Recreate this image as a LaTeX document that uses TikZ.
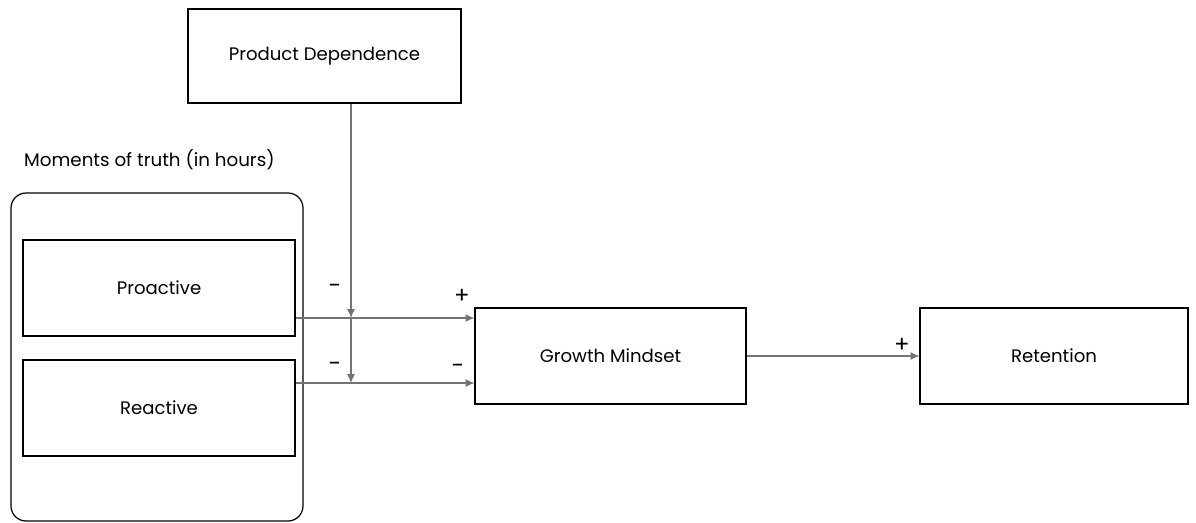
\documentclass[tikz,border=0pt]{standalone}
\usepackage{fontspec}
\setmainfont{Poppins}
\usepackage{tikz}
\usetikzlibrary{arrows.meta}
\tikzstyle{box} = [draw, line width=0.7pt, minimum width=5.44cm, minimum height=1.92cm, inner sep=0pt, font=\fontsize{10.3}{12}\selectfont]
\tikzstyle{arr} = [draw, gray!90!black, line width=0.6pt, -{Latex[length=5pt,width=4.5pt]}]
\tikzstyle{sign} = [font=\fontsize{13}{15}\selectfont, inner sep=0pt]

\begin{document}
\begin{tikzpicture}[x=0.02cm,y=-0.02cm]
			\useasboundingbox (0,0) rectangle (1196,522);
			\draw[line width=0.7pt, rounded corners=0.3cm] (11,193) rectangle (303,521);
			\node[anchor=west, font=\fontsize{10.4}{12}\selectfont] (mot) at (18,160) {Moments of truth (in hours)};
			\node[box, minimum width=5.46cm, minimum height=1.88cm] (pd) at (324.5,56) {Product Dependence};
			\node[box] (pro) at (159,288) {Proactive};
			\node[box] (rea) at (159,408) {Reactive};
			\node[box, minimum width=5.42cm] (gm) at (610.5,356) {Growth Mindset};
			\node[box, minimum width=5.36cm] (ret) at (1054,356) {Retention};
			\coordinate (a1) at ([yshift=-0.6cm]pro.east);
			\coordinate (a2) at ([yshift=0.5cm]rea.east);
			\coordinate (top) at ([xshift=0.53cm]pd.south);
			\draw[arr] (a1) -- (a1 -| gm.west);
			\draw[arr] (a2) -- (a2 -| gm.west);
			\draw[arr] (top) -- (top |- a1);
			\draw[arr] (top |- a1) -- (top |- a2);
			\draw[arr] (gm.east) -- (ret.west);
			\node[sign] (s1) at (335,289) {-};
			\node[sign] (s2) at (462,296) {+};
			\node[sign] (s3) at (335,367) {-};
			\node[sign] (s4) at (458,369) {-};
			\node[sign] (s5) at (902,345) {+};
		\end{tikzpicture}
\end{document}
